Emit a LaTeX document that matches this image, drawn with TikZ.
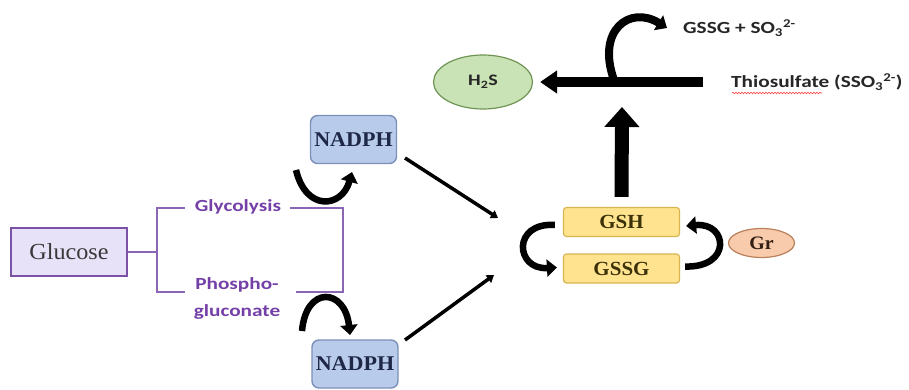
\documentclass[tikz,border=0pt]{standalone}
\usepackage{fontspec}
\setmainfont{Liberation Serif}
\newfontfamily\calb[FakeStretch=1.25]{Carlito}
\newfontfamily\serb[FakeStretch=1.05]{Liberation Serif}
\usetikzlibrary{arrows.meta,shapes.geometric,decorations.pathmorphing}
\definecolor{purpline}{HTML}{8A66B4}
\definecolor{purptext}{HTML}{7440A8}
\definecolor{gluc}{HTML}{E8E2F8}
\definecolor{glucd}{HTML}{7C52A8}
\definecolor{nadf}{HTML}{B8CBEA}
\definecolor{nadd}{HTML}{7D90B8}
\definecolor{gsf}{HTML}{FFE38F}
\definecolor{gsd}{HTML}{D9B552}
\definecolor{grf}{HTML}{F8CBAD}
\definecolor{grd}{HTML}{B9805A}
\definecolor{hsf}{HTML}{C9E2B6}
\definecolor{hsd}{HTML}{6F9454}
\tikzset{
  glucbox/.style={draw=glucd, fill=gluc, line width=2.5pt, minimum width=116pt, minimum height=48pt, inner sep=0pt,
    font=\serb\fontsize{23}{26}\selectfont, text=black!78},
  nadbox/.style={draw=nadd, fill=nadf, line width=1.4pt, rounded corners=7pt, minimum width=86pt, minimum height=48pt, inner sep=0pt,
    font=\serb\bfseries\fontsize{21}{24}\selectfont, text={rgb,255:red,30;green,40;blue,70}},
  gsbox/.style={draw=gsd, fill=gsf, line width=1.2pt, rounded corners=3pt, minimum width=116pt, minimum height=29pt, inner sep=0pt,
    font=\serb\bfseries\fontsize{20}{22}\selectfont, text={rgb,255:red,60;green,50;blue,10}},
  grell/.style={ellipse, draw=grd, fill=grf, line width=1.2pt, minimum width=66pt, minimum height=29pt, inner sep=0pt,
    font=\serb\bfseries\fontsize{19}{21}\selectfont, text={rgb,255:red,50;green,30;blue,20}},
  hsell/.style={ellipse, draw=hsd, fill=hsf, line width=1.2pt, minimum width=99pt, minimum height=54pt, inner sep=0pt,
    font=\calb\bfseries\fontsize{16}{20}\selectfont, text=black!85},
  purplbl/.style={font=\calb\bfseries\fontsize{17}{27}\selectfont, text=purptext, inner sep=0pt, align=center},
  blacklbl/.style={font=\calb\bfseries\fontsize{17}{20}\selectfont, text=black!85, inner sep=0pt, anchor=west},
  purpl/.style={draw=purpline, line width=2pt},
  fatcurve/.style={line width=6.5pt, -{Triangle[length=10pt,width=17pt]}},
  thinarrow/.style={line width=3.5pt, -{Triangle[length=7pt,width=9pt]}},
  biglinev/.style={line width=14pt, -{Triangle[length=20pt,width=34pt]}},
  biglineh/.style={line width=10pt, -{Triangle[length=17pt,width=22pt]}},
}
\begin{document}
\begin{tikzpicture}[x=1pt,y=-1pt]
\useasboundingbox[fill=white] (0,0) rectangle (909,390);

% nodes
\node[glucbox] (glucose) at (69,252) {Glucose};
\node[purplbl] (glyc) at (238,207) {Glycolysis};
\node[purplbl] (phos) at (237,298) {Phospho-\\gluconate};
\node[nadbox] (nad1) at (353.5,139.5) {NADPH};
\node[nadbox] (nad2) at (355,364) {NADPH};
\node[gsbox] (gsh) at (621.5,222) {GSH};
\node[gsbox] (gssg) at (621.5,268.5) {GSSG};
\node[grell] (gr) at (761.5,243) {Gr};
\node[hsell] (h2s) at (483,82) {H\textsubscript{2}S};
\node[blacklbl] (thio) at (731,82) {Thiosulfate (SSO\textsubscript{3}\textsuperscript{2-})};
\node[blacklbl] (prod) at (683,28) {GSSG + SO\textsubscript{3}\textsuperscript{2-}};

% spell-check squiggle
\draw[red!75, line width=0.6pt, decorate, decoration={snake, amplitude=0.8pt, segment length=3pt}]
  ([xshift=1pt,yshift=-11pt]thio.west) -- ++(90,0);

% purple bracket lines
\coordinate (bl) at (157,252);
\draw[purpl] (glucose.east) -- (bl);
\draw[purpl] (185,208) -- (157,208) -- (157,292) -- (185,292);
\draw[purpl] (290,208) -- (343,208) -- (343,292) -- (296,292);

% NADPH curved arrows
\coordinate (u1s) at (296,170);
\coordinate (u1e) at (352,172);
\draw[fatcurve] (u1s) .. controls (306,212) and (342,208) .. (u1e);
\coordinate (u2s) at (302,331);
\coordinate (u2e) at (350,335);
\draw[fatcurve] (u2s) .. controls (306,285) and (345,288) .. (u2e);

% diagonal arrows
\coordinate (d1s) at (405,158);
\coordinate (d1e) at (498,218);
\draw[thinarrow] (d1s) -- (d1e);
\coordinate (d2s) at (405,340);
\coordinate (d2e) at (494,275);
\draw[thinarrow] (d2s) -- (d2e);

% GSH / GSSG cycle arrows
\draw[fatcurve] ([xshift=-8pt,yshift=-3pt]gsh.west) .. controls (512,222) and (515,270) .. ([xshift=-6pt,yshift=1pt]gssg.west);
\draw[fatcurve] ([xshift=5pt,yshift=2pt]gssg.east) .. controls (732,268) and (728,222) .. ([xshift=6pt,yshift=-4pt]gsh.east);

% big arrows
\coordinate (vtip) at (622,107);
\draw[biglinev] ([yshift=10pt]gsh.north) -- (vtip);
\coordinate (hstart) at (703,82);
\draw[biglineh] (hstart) -- ([xshift=7pt]h2s.east);
\coordinate (cs) at (614,80);
\draw[fatcurve, line width=8pt] (cs) .. controls (596,30) and (630,5) .. ([xshift=-16pt]prod.west);
\end{tikzpicture}
\end{document}
